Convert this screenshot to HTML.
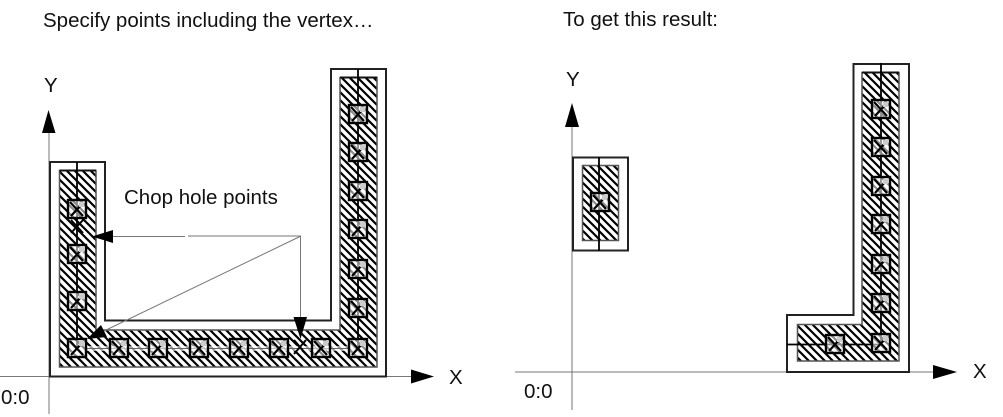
<!DOCTYPE html>
<html>
<head>
<meta charset="utf-8">
<style>
html,body{margin:0;padding:0;background:#fff;width:1003px;height:417px;overflow:hidden}
svg{display:block}
text{font-family:"Liberation Sans",sans-serif;fill:#111;font-size:20.5px}
</style>
</head>
<body>
<svg width="1003" height="417" viewBox="0 0 1003 417" xmlns="http://www.w3.org/2000/svg">
<defs>
<pattern id="h" width="8" height="8" patternUnits="userSpaceOnUse">
<rect width="8" height="8" fill="#fff"/>
<path d="M-2 -2L10 10M-2 6L2 10M6 -2L10 2" stroke="#000" stroke-width="2.2" fill="none"/>
</pattern>
<g id="c">
<rect x="-9" y="-9" width="18" height="18" fill="#fff" fill-opacity="0.55" stroke="#000" stroke-width="2.4"/>
<path d="M-7 -7L6 7M-6 7L5 -5" stroke="#000" stroke-width="2.2"/>
<path d="M2 -7h5v5h-5z" fill="#ccc"/>
</g>
</defs>

<!-- text -->
<text x="43" y="27">Specify points including the vertex…</text>
<text x="563" y="26">To get this result:</text>
<text x="124" y="204">Chop hole points</text>
<text x="44" y="92">Y</text>
<text x="566" y="86">Y</text>
<text x="449" y="384">X</text>
<text x="973" y="378">X</text>
<text x="1" y="404">0:0</text>
<text x="524" y="398">0:0</text>

<!-- left axes -->
<path d="M49 414V130M0 376.500H414" stroke="#777" stroke-width="1" fill="none"/>
<path d="M48.500 110L55.500 133H42z" fill="#000"/>
<path d="M411 369.500L434 376.500L411 383.500z" fill="#000"/>

<!-- right axes -->
<path d="M572 410V125M515 372H936" stroke="#777" stroke-width="1" fill="none"/>
<path d="M572 103L579 127H565z" fill="#000"/>
<path d="M933 365L957 372L933 379z" fill="#000"/>

<!-- left U shape -->
<path d="M50 162H105V320.500H331V69H386V376.500H50z" fill="#fff" stroke="#222" stroke-width="2"/>
<path d="M59.500 170.500H96V330H340V77.500H377V367H59.500z" fill="url(#h)" stroke="#555" stroke-width="1.500"/>
<path d="M340 77.500H377M59.500 170.500H96" stroke="#111" stroke-width="2"/>
<path d="M87 348.500H350" stroke="#fff" stroke-width="5" stroke-opacity="0.6" fill="none"/>
<path d="M87 348.500H350" stroke="#666" stroke-width="1" fill="none"/>
<path d="M77 162V347M358 347V69" stroke="#000" stroke-width="1.800" fill="none"/>
<use href="#c" x="77" y="209"/>
<use href="#c" x="77" y="254"/>
<use href="#c" x="77" y="301"/>
<use href="#c" x="77" y="348"/>
<use href="#c" x="119" y="348"/>
<use href="#c" x="158" y="348"/>
<use href="#c" x="199" y="348"/>
<use href="#c" x="239" y="348"/>
<use href="#c" x="279" y="348"/>
<use href="#c" x="321" y="348"/>
<use href="#c" x="358" y="348"/>
<use href="#c" x="358" y="114"/>
<use href="#c" x="358" y="152"/>
<use href="#c" x="358" y="191"/>
<use href="#c" x="358" y="229"/>
<use href="#c" x="358" y="269"/>
<use href="#c" x="358" y="308"/>
<path d="M71 220L83 233M83 220L71 233M294 340L306 354M306 340L294 354" stroke="#000" stroke-width="2"/>

<!-- leaders -->
<path d="M113 236.500H185M188 236H301L104 331M300.500 236V318" stroke="#777" stroke-width="1" fill="none"/>
<path d="M92 236.500L113 230V243z" fill="#000"/>
<path d="M293.500 317H307L300.500 339z" fill="#000"/>
<path d="M87 339L101 325L107 337z" fill="#000"/>

<!-- right small rect -->
<rect x="573" y="157.500" width="55" height="93" fill="#fff" stroke="#222" stroke-width="2"/>
<rect x="582.500" y="165.500" width="36" height="75" fill="url(#h)" stroke="#555" stroke-width="1.500"/>
<path d="M599 157V251" stroke="#000" stroke-width="1.800"/>
<use href="#c" x="600" y="202"/>

<!-- right L shape -->
<path d="M853.500 64H909V372H787V315H853.500z" fill="#fff" stroke="#222" stroke-width="2"/>
<path d="M862 72.500H899V361H797.500V324.500H862z" fill="url(#h)" stroke="#555" stroke-width="1.500"/>
<path d="M862 72.500H899" stroke="#111" stroke-width="2"/>
<path d="M787 344.500H881V63" stroke="#000" stroke-width="1.800" fill="none"/>
<use href="#c" x="835" y="344"/>
<use href="#c" x="881" y="343"/>
<use href="#c" x="881" y="303"/>
<use href="#c" x="881" y="264"/>
<use href="#c" x="881" y="224"/>
<use href="#c" x="881" y="186"/>
<use href="#c" x="881" y="147"/>
<use href="#c" x="881" y="109"/>
</svg>
</body>
</html>
